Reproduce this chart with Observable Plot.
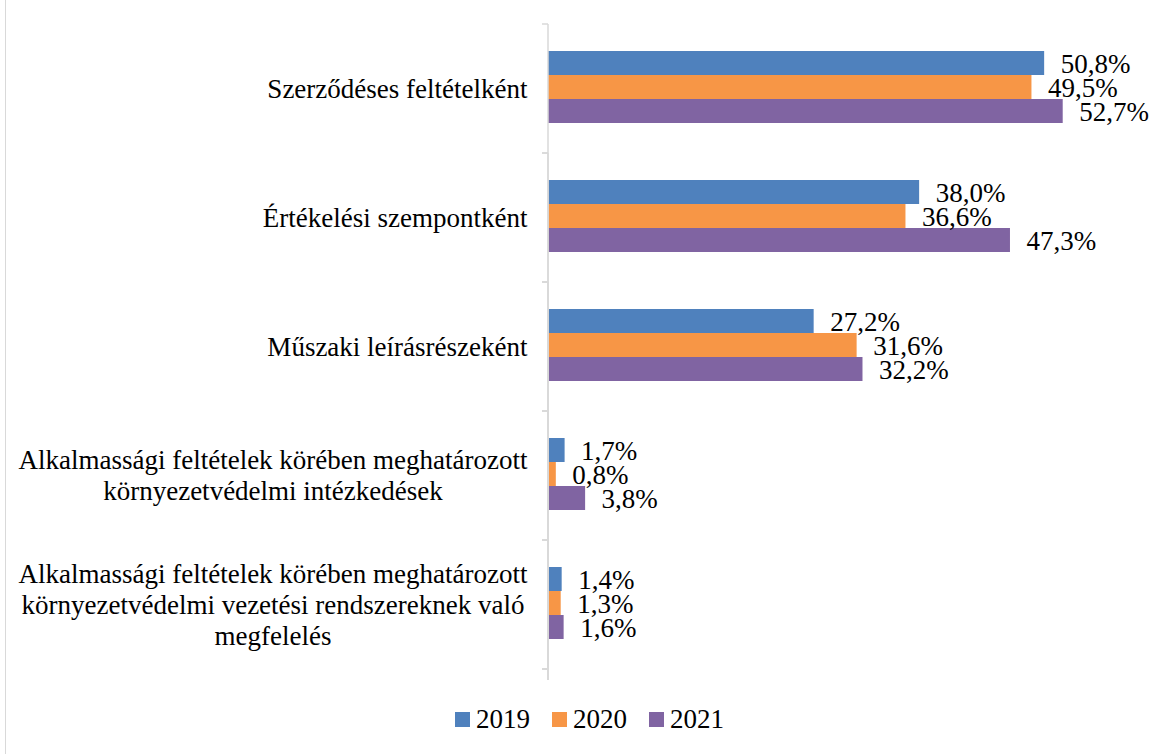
<!DOCTYPE html>
<html>
<head>
<meta charset="utf-8">
<script src="https://cdn.jsdelivr.net/npm/d3@7"></script>
<script src="https://cdn.jsdelivr.net/npm/@observablehq/plot@0.6"></script>
<style>
  html, body { margin: 0; padding: 0; background: #fff; }
  body { width: 1154px; height: 754px; position: relative; overflow: hidden; font-family: 'Liberation Serif', serif; }
  #frame { position: absolute; left: 5px; top: -2px; width: 1200px; height: 800px; border-left: 1.5px solid #d9d9d9; }
  #chart { position: absolute; left: 0; top: 0; }
  #legend { position: absolute; left: 0; top: 700px; width: 1154px; height: 38px; display: flex; justify-content: center; align-items: center; padding-left: 25px; box-sizing: border-box; font-family: 'Liberation Serif', serif; font-size: 27px; color: #000; }
  #legend .item { display: flex; align-items: center; margin: 0 11px; }
  #legend .sw { width: 15px; height: 15px; margin-right: 6px; }
  #chart svg, #chart svg text { font-family: 'Liberation Serif', serif !important; }
</style>
</head>
<body>
<div id="frame"></div>
<div id="chart"></div>
<div id="legend"></div>
<script>
const categories = [
  "Szerződéses feltételként",
  "Értékelési szempontként",
  "Műszaki leírásrészeként",
  "Alkalmassági feltételek körében meghatározott\nkörnyezetvédelmi intézkedések",
  "Alkalmassági feltételek körében meghatározott\nkörnyezetvédelmi vezetési rendszereknek való\nmegfelelés"
];
const years = ["2019", "2020", "2021"];
const values2019 = [50.8, 38.0, 27.2, 1.7, 1.4];
const values2020 = [49.5, 36.6, 31.6, 0.8, 1.3];
const values2021 = [52.7, 47.3, 32.2, 3.8, 1.6];
const colors = ["#4F81BD", "#F79646", "#8064A2"];

const series = [values2019, values2020, values2021];
const rows = [];
categories.forEach((c, i) => years.forEach((y, j) => rows.push({category: c, year: y, value: series[j][i]})));

const FONT = "'Liberation Serif', serif";
const FS = 27;
const W = 1154, H = 680;
const ML = 548, MR = 20, MT = 20, MB = 12;

const canvas = document.createElement("canvas");
const ctx = canvas.getContext("2d");
ctx.font = `${FS}px 'Liberation Serif'`;
const blockWidth = (label) => Math.max(...label.split("\n").map(l => ctx.measureText(l).width));
const labelGap = 21;

function axisAndTicks(index, scales) {
  const fy = scales.fy;
  const x0 = scales.x(0);
  const top = fy(categories[0]);
  const bottom = fy(categories[categories.length - 1]) + fy.bandwidth();
  const ys = categories.map(c => fy(c)).concat([bottom]);
  const g = d3.create("svg:g").attr("stroke", "#d9d9d9").attr("stroke-width", 1.5);
  g.append("line").attr("x1", x0).attr("x2", x0).attr("y1", top).attr("y2", bottom);
  g.selectAll("line.t").data(ys).join("line").attr("class", "t")
    .attr("x1", x0 - 6).attr("x2", x0).attr("y1", d => d).attr("y2", d => d);
  return g.node();
}

const fmt = v => v.toFixed(1).replace(".", ",") + "%";

const plot = Plot.plot({
  width: W,
  height: H,
  marginLeft: ML,
  marginRight: MR,
  marginTop: MT,
  marginBottom: MB,
  style: {fontFamily: FONT, fontSize: FS + "px", color: "#000", background: "transparent"},
  x: {domain: [0, 60], axis: null},
  y: {domain: years, axis: null, paddingInner: 0, paddingOuter: 1.09},
  fy: {domain: categories, axis: null, padding: 0},
  color: {domain: years, range: colors},
  marks: [
    Plot.barX(rows, {x: "value", y: "year", fy: "category", fill: "year", insetTop: 0, insetBottom: 0}),
    Plot.text(rows, {x: "value", y: "year", fy: "category", text: d => fmt(d.value), textAnchor: "start", dx: 16, dy: 1, fontSize: FS, fontFamily: FONT, fill: "#000"}),
    ...categories.map(c => Plot.text([c], {
      fy: d => d, x: () => 0, text: d => d, textAnchor: "middle", lineAnchor: "middle", lineHeight: 1.15,
      frameAnchor: "middle", dx: -(labelGap + blockWidth(c) / 2), dy: 1, fontSize: FS, fontFamily: FONT, fill: "#000"
    })),
    axisAndTicks
  ]
});
document.getElementById("chart").appendChild(plot);

const legend = document.getElementById("legend");
years.forEach((y, j) => {
  const item = document.createElement("div");
  item.className = "item";
  const sw = document.createElement("div");
  sw.className = "sw";
  sw.style.background = colors[j];
  const t = document.createElement("span");
  t.textContent = y;
  item.appendChild(sw);
  item.appendChild(t);
  legend.appendChild(item);
});
</script>
</body>
</html>
